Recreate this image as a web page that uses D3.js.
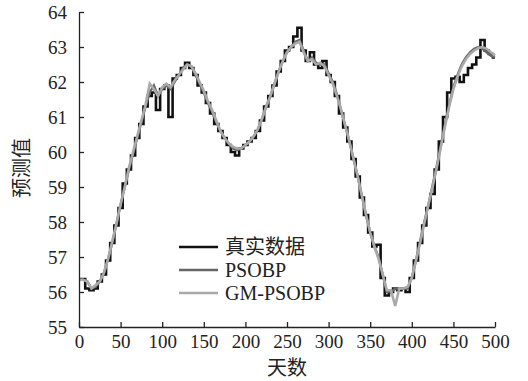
<!DOCTYPE html>
<html><head><meta charset="utf-8">
<script src="https://cdn.jsdelivr.net/npm/d3@7/dist/d3.min.js"></script>
<style>body{margin:0;background:#fff}svg{display:block}</style>
</head><body>
<svg id="c" width="528" height="381"></svg>
<script>
// days sampled every 5 days
const days = d3.range(0, 501, 5);
const actual = [56.37,56.37,56.1,56.05,56.1,56.3,56.5,56.9,57.4,57.9,58.4,59.1,59.5,59.9,60.4,60.8,61.3,61.6,61.7,61.2,
61.8,61.9,61.0,62.1,62.2,62.4,62.55,62.4,62.2,61.9,61.7,61.4,61.1,60.8,60.6,60.4,60.2,60.0,59.9,60.1,
60.2,60.3,60.4,60.6,60.9,61.3,61.6,61.9,62.3,62.6,62.9,63.0,63.3,63.55,62.9,62.6,62.85,62.5,62.4,62.6,
62.2,62.0,61.6,61.1,60.7,60.3,59.8,59.3,58.7,58.2,57.7,57.3,57.35,56.4,55.9,56.0,56.1,56.05,56.1,56.0,
56.4,56.9,57.4,57.9,58.4,58.8,59.5,60.3,61.0,61.7,62.1,62.15,62.0,62.2,62.4,62.5,62.7,63.2,62.9,62.8,62.7];
const psobp = [56.35,56.35,56.3,56.1,56.15,56.3,56.55,56.95,57.4,57.95,58.5,59.0,59.5,59.95,60.4,60.85,61.3,61.7,61.9,61.6,
61.8,61.9,61.8,62.0,62.2,62.4,62.5,62.45,62.2,61.95,61.7,61.4,61.15,60.85,60.6,60.4,60.25,60.1,60.05,60.1,
60.2,60.3,60.45,60.65,60.95,61.3,61.6,61.95,62.3,62.6,62.85,63.0,63.15,63.2,62.9,62.6,62.7,62.55,62.5,62.5,
62.25,62.0,61.65,61.2,60.75,60.3,59.8,59.3,58.75,58.2,57.7,57.3,57.0,56.5,56.0,56.0,56.1,56.1,56.1,56.1,
56.4,56.9,57.45,58.0,58.5,59.05,59.6,60.2,60.8,61.35,61.85,62.2,62.5,62.7,62.85,62.95,63.0,62.95,62.85,62.75,62.7];
const gmpsobp = [56.35,56.35,56.3,56.1,56.2,56.3,56.55,56.95,57.45,57.95,58.5,59.0,59.55,60.0,60.45,60.9,61.35,61.95,61.8,61.6,
61.85,61.95,61.85,62.05,62.2,62.35,62.5,62.45,62.25,62.0,61.75,61.45,61.2,60.9,60.6,60.4,60.25,60.15,60.1,60.1,
60.2,60.3,60.45,60.65,60.95,61.3,61.6,61.95,62.3,62.6,62.85,63.0,63.1,63.15,62.85,62.6,62.65,62.5,62.55,62.45,
62.2,61.95,61.6,61.2,60.75,60.3,59.8,59.3,58.75,58.2,57.7,57.3,56.95,56.5,56.05,56.05,55.6,56.1,56.1,56.15,
56.4,56.9,57.4,57.95,58.5,59.0,59.55,60.15,60.75,61.3,61.8,62.15,62.45,62.65,62.8,62.9,62.97,63.0,62.95,62.85,62.75];
const xTicks = [0,50,100,150,200,250,300,350,400,450,500];
const yTicks = [55,56,57,58,59,60,61,62,63,64];
const seriesNames = ["真实数据","PSOBP","GM-PSOBP"];
const xLabel = "天数", yLabel = "预测值";

const svg = d3.select("#c");
const serif = "'Liberation Serif','Times New Roman','Noto Sans CJK SC',serif";
const x = d3.scaleLinear().domain([0,500]).range([79,495]);
const y = d3.scaleLinear().domain([55,64]).range([327,12]);

const colors = ["#111111","#666666","#a9a9a9"];
const widths = [2.6,2.4,2.6];
const curves = [d3.curveStep, d3.curveLinear, d3.curveLinear];
[actual, psobp, gmpsobp].forEach((vals,i)=>{
  const line = d3.line().x((d,j)=>x(days[j])).y(d=>y(d)).curve(curves[i]);
  svg.append("path").attr("d", line(vals)).attr("fill","none")
    .attr("stroke", colors[i]).attr("stroke-width", widths[i]).attr("stroke-linejoin","miter");
});

const xa = svg.append("g").attr("transform","translate(0,327)")
  .call(d3.axisBottom(x).tickValues(xTicks).tickSizeInner(-5).tickSizeOuter(0).tickPadding(8));
const ya = svg.append("g").attr("transform","translate(79,0)")
  .call(d3.axisLeft(y).tickValues(yTicks).tickSizeInner(-5).tickSizeOuter(0).tickPadding(12));
[xa,ya].forEach(a=>{
  a.selectAll("path,line").attr("stroke","#222").attr("stroke-width",1.3);
  a.selectAll("text").attr("font-family",serif).attr("font-size",19).attr("fill","#222");
});

const leg = svg.append("g");
[247,270,293].forEach((ly,i)=>{
  leg.append("line").attr("x1",179).attr("x2",218).attr("y1",ly).attr("y2",ly)
    .attr("stroke",colors[i]).attr("stroke-width",2.6);
  leg.append("text").attr("x",225).attr("y",ly).attr("dy","0.35em")
    .attr("font-family",serif).attr("font-size",20).attr("fill","#222").text(seriesNames[i]);
});

svg.append("text").attr("x",287).attr("y",368).attr("dy","0.35em").attr("text-anchor","middle")
  .attr("font-family",serif).attr("font-size",20).attr("fill","#222").text(xLabel);
svg.append("text").attr("transform","translate(22,168) rotate(-90)").attr("dy","0.35em").attr("text-anchor","middle")
  .attr("font-family",serif).attr("font-size",20).attr("fill","#222").text(yLabel);
</script>
</body></html>
